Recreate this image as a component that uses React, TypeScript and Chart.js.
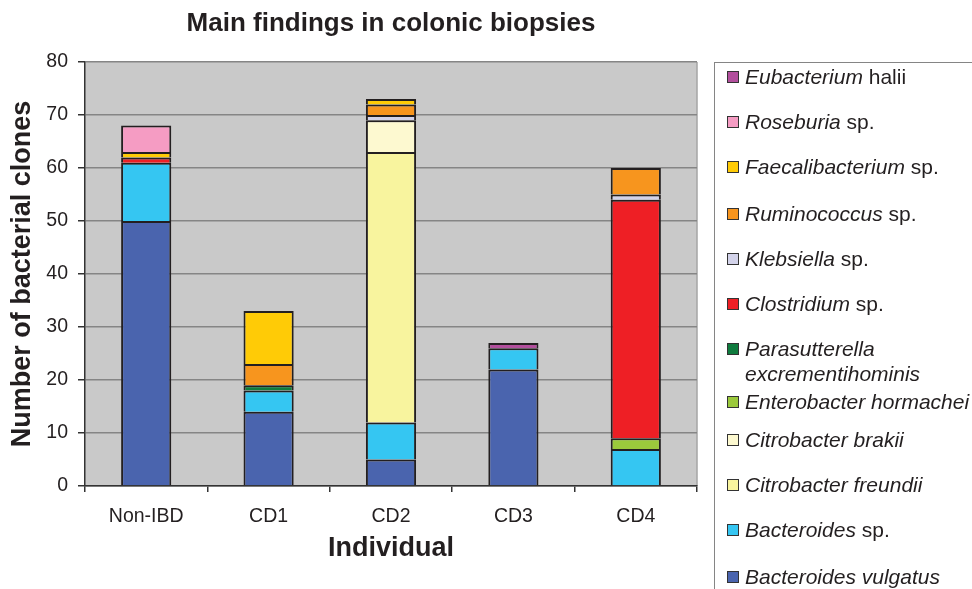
import React, { useEffect, useRef } from "react";
import { Chart, registerables } from "chart.js";

Chart.register(...registerables);

const categories = ["Non-IBD", "CD1", "CD2", "CD3", "CD4"];
const yMin = 0;
const yMax = 80;
const yStep = 10;

// stack order: bottom -> top
const speciesItalic = [
  "Bacteroides vulgatus",
  "Bacteroides",
  "Citrobacter freundii",
  "Citrobacter brakii",
  "Enterobacter hormachei",
  "Parasutterella excrementihominis",
  "Clostridium",
  "Klebsiella",
  "Ruminococcus",
  "Faecalibacterium",
  "Roseburia",
  "Eubacterium",
];
const speciesSuffix = ["", " sp.", "", "", "", "", " sp.", " sp.", " sp.", " sp.", " sp.", " halii"];
const speciesColors = [
  "#4A64AE",
  "#35C6F2",
  "#F8F49E",
  "#FDF9D0",
  "#9BC93C",
  "#0F7B3E",
  "#EE1F25",
  "#D3D3EA",
  "#F7951E",
  "#FFCB06",
  "#F59CC3",
  "#B24F9D",
];

const bacteroidesVulgatus = [50, 14, 5, 22, null];
const bacteroidesSp = [11, 4, 7, 4, 7];
const citrobacterFreundii = [null, null, 51, null, null];
const citrobacterBrakii = [null, null, 6, null, null];
const enterobacterHormachei = [null, null, null, null, 2];
const parasutterellaExcrementihominis = [null, 1, null, null, null];
const clostridiumSp = [1, null, null, null, 45];
const klebsiellaSp = [null, null, 1, null, 1];
const ruminococcusSp = [null, 4, 2, null, 5];
const faecalibacteriumSp = [1, 10, 1, null, null];
const roseburiaSp = [5, null, null, null, null];
const eubacteriumHalii = [null, null, null, 1, null];

const seriesValues = [
  bacteroidesVulgatus,
  bacteroidesSp,
  citrobacterFreundii,
  citrobacterBrakii,
  enterobacterHormachei,
  parasutterellaExcrementihominis,
  clostridiumSp,
  klebsiellaSp,
  ruminococcusSp,
  faecalibacteriumSp,
  roseburiaSp,
  eubacteriumHalii,
];

const FONT = "'Liberation Sans', Arial, Helvetica, sans-serif";
const TEXT = "#231F20";

// legend rows (top -> bottom), vertical centres of first text line
const legendRowCenters = [76, 121, 166, 213, 258, 303, 348, 401, 439, 484, 529, 576];

const plotBg = {
  id: "plotBg",
  beforeDraw(chart: any) {
    const { ctx, chartArea } = chart;
    const { left, top, right, bottom } = chartArea;
    ctx.save();
    ctx.fillStyle = "#C9C9C9";
    ctx.fillRect(left, top, right - left, bottom - top);
    ctx.strokeStyle = "#A5A5A5";
    ctx.lineWidth = 1.5;
    ctx.beginPath();
    ctx.moveTo(right, top);
    ctx.lineTo(right, bottom);
    ctx.stroke();
    ctx.restore();
  },
};

export default function App() {
  const canvasRef = useRef<HTMLCanvasElement | null>(null);

  useEffect(() => {
    document.body.style.margin = "0";
    const canvas = canvasRef.current;
    if (!canvas) return;
    const chart = new Chart(canvas, {
      type: "bar",
      data: {
        labels: categories,
        datasets: seriesValues.map((vals, i) => ({
          label: speciesItalic[i] + speciesSuffix[i],
          data: vals as any,
          backgroundColor: speciesColors[i],
          borderColor: "#231F20",
          borderWidth: 2,
          barPercentage: 0.41,
          categoryPercentage: 1.0,
        })),
      },
      options: {
        animation: false,
        responsive: false,
        maintainAspectRatio: false,
        layout: { padding: { left: 0, right: 275, top: 0, bottom: 0 } },
        plugins: {
          legend: { display: false },
          tooltip: { enabled: false },
          title: {
            display: true,
            text: "Main findings in colonic biopsies",
            fullSize: false,
            color: TEXT,
            font: { family: FONT, size: 26, weight: "bold", lineHeight: 1.2 },
            padding: { top: 8.5, bottom: 22.3 },
          },
        },
        scales: {
          x: {
            stacked: true,
            grid: {
              display: true,
              drawOnChartArea: false,
              offset: true,
              tickColor: "#333333",
              tickLength: 6,
              lineWidth: 1.5,
            },
            border: { color: "#333333", width: 1.5 },
            ticks: { color: TEXT, font: { family: FONT, size: 19.5 }, padding: 13 },
            title: {
              display: true,
              text: "Individual",
              color: TEXT,
              font: { family: FONT, size: 27, weight: "bold", lineHeight: 1.2 },
              padding: { top: 0, bottom: 23.8 },
            },
            afterFit(scale: any) {
              scale.height = 103;
            },
          },
          y: {
            stacked: true,
            min: yMin,
            max: yMax,
            ticks: { stepSize: yStep, color: TEXT, font: { family: FONT, size: 19.5 }, padding: 10 },
            grid: {
              color: "#858585",
              lineWidth: 1.5,
              tickColor: "#333333",
              tickLength: 7,
            },
            border: { color: "#333333", width: 1.5 },
            title: {
              display: true,
              text: "Number of bacterial clones",
              color: TEXT,
              font: { family: FONT, size: 27, weight: "bold", lineHeight: 1.2 },
              padding: { top: 6, bottom: 0 },
            },
            afterFit(scale: any) {
              scale.width = 85;
            },
          },
        },
      },
      plugins: [plotBg],
    });
    return () => chart.destroy();
  }, []);

  const legendOrder = seriesValues.map((_, i) => i).reverse();

  return (
    <div style={{ position: "relative", width: 972, height: 589, overflow: "hidden", background: "#fff" }}>
      <canvas ref={canvasRef} width={972} height={589} style={{ display: "block", width: 972, height: 589 }} />
      <div
        style={{
          position: "absolute",
          left: 714,
          top: 62,
          width: 300,
          height: 600,
          borderLeft: "1.5px solid #858585",
          borderTop: "1.5px solid #858585",
          boxSizing: "border-box",
        }}
      />
      {legendOrder.map((idx, row) => (
        <div
          key={idx}
          style={{
            position: "absolute",
            left: 727,
            top: legendRowCenters[row] - 12.5,
            display: "flex",
            alignItems: "flex-start",
            fontFamily: FONT,
            fontSize: 21,
            lineHeight: "25px",
            color: TEXT,
          }}
        >
          <span
            style={{
              display: "inline-block",
              width: 12,
              height: 12,
              marginTop: 7,
              background: speciesColors[idx],
              border: "1px solid #333",
              boxSizing: "border-box",
              flex: "0 0 auto",
            }}
          />
          <span style={{ marginLeft: 6, width: 240 }}>
            <i>{speciesItalic[idx]}</i>
            {speciesSuffix[idx]}
          </span>
        </div>
      ))}
    </div>
  );
}
